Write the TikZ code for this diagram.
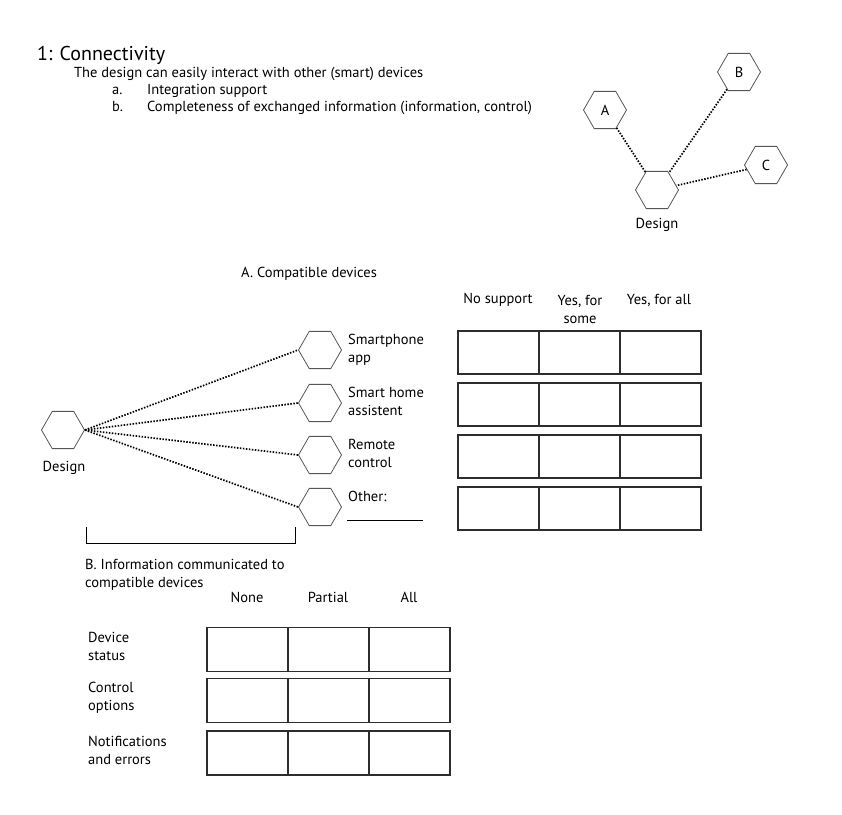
\documentclass[tikz,border=0pt]{standalone}
\usepackage{fontspec}
\setmainfont{PT Sans}
\usetikzlibrary{shapes.geometric, positioning}
\definecolor{hexgray}{RGB}{85,85,85}
\definecolor{boxgray}{RGB}{45,45,45}

\begin{document}
\begin{tikzpicture}[x=1pt,y=-1pt,
  font=\fontsize{14.5}{18}\selectfont,
  hexa/.style={draw=hexgray,regular polygon,regular polygon sides=6,
               minimum size=43pt,inner sep=0pt,line width=0.8pt},
  link/.style={dash pattern=on 1.5pt off 1.5pt,line width=1.7pt},
  cell/.style={draw=boxgray,line width=1.2pt,minimum width=81pt,
               minimum height=43pt,inner sep=0pt,outer sep=0pt},
  lbl/.style={align=left,anchor=west,inner sep=0pt},
  hdr/.style={align=center,inner sep=0pt},
  txt/.style={anchor=base west,inner sep=0pt},
]
\useasboundingbox (0,0) rectangle (842,814);

% heading
\node[txt,font=\fontsize{20}{22}\selectfont] (title) at (37,60) {1: Connectivity};
\node[txt] (intro) at (74,77) {The design can easily interact with other (smart) devices};
\node[txt] (ia) at (112,94) {a.};
\node[txt] (ta) at (147,94) {Integration support};
\node[txt] (ib) at (112,111) {b.};
\node[txt] (tb) at (147,111) {Completeness of exchanged information (information, control)};

% small overview graph
\node[hexa] (hA) at (605,110) {A};
\node[hexa] (hB) at (739,72) {B};
\node[hexa] (hC) at (766,165) {C};
\node[hexa] (hD) at (657,190) {};
\node[hdr] (hDlab) at (657,225) {Design};
\draw[link] (hA) -- (hD);
\draw[link] (hB) -- (hD);
\draw[link] (hC) -- (hD);

% A. compatible devices
\node[txt] (secA) at (241,277) {A. Compatible devices};
\node[hexa] (dA) at (63,430) {};
\node[hdr] (dAlab) at (64,468) {Design};
\node[hexa] (d1) at (320,350) {};
\node[hexa] (d2) at (320,403) {};
\node[hexa] (d3) at (320,455) {};
\node[hexa] (d4) at (320,507) {};
\foreach \i in {1,...,4}
  \draw[link] (dA.east) -- (d\i.west);
\node[lbl] (lab1) at (348,350) {Smartphone\\app};
\node[lbl] (lab2) at (348,401) {Smart home\\assistent};
\node[lbl] (lab3) at (348,453) {Remote\\control};
\node[lbl] (lab4) at (348,496) {Other:};
\draw[line width=0.8pt] (347,520) -- (423,520);
\draw[line width=0.8pt] (86,527) |- (295,543) -- (295,527);

\node[hdr] (hNo) at (498,300) {No support};
\node[hdr] (hSome) at (580,309) {Yes, for\\some};
\node[hdr] (hAll) at (659,300) {Yes, for all};
\foreach \r/\yy in {1/352.5,2/404.5,3/456.5,4/508.5}
  \foreach \c/\xx in {1/498.5,2/579.5,3/660.5}
    \node[cell] (a-\r-\c) at (\xx,\yy) {};

% B. information communicated
\node[lbl] (secB) at (85,575) {B. Information communicated to\\compatible devices};
\node[hdr] (hNone) at (247,597) {None};
\node[hdr] (hPart) at (328,597) {Partial};
\node[hdr] (hAllB) at (409,597) {All};
\node[lbl] (rowS) at (88,646) {Device\\status};
\node[lbl] (rowC) at (88,698) {Control\\options};
\node[lbl] (rowN) at (88,750) {Notifications\\and errors};
\foreach \r/\yy in {1/649.5,2/700.5,3/753}
  \foreach \c/\xx in {1/247.5,2/328.5,3/409.5}
    \node[cell,minimum height=44pt] (b-\r-\c) at (\xx,\yy) {};
\end{tikzpicture}
\end{document}
